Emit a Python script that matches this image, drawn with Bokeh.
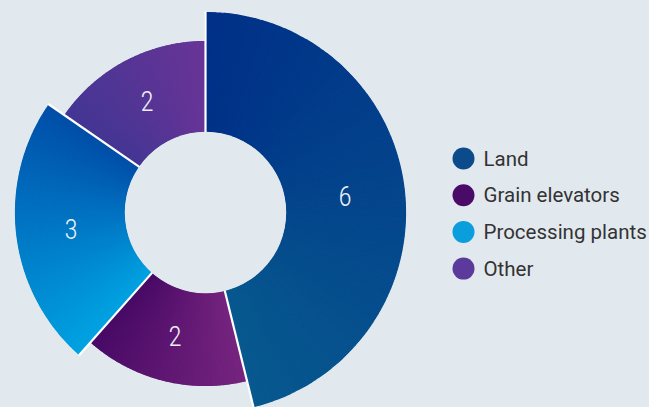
import numpy as np
from bokeh.plotting import figure
from bokeh.models import ColumnDataSource, Range1d
from bokeh.core.properties import value
from bokeh.embed import file_html
from bokeh.resources import INLINE

# ---- data ----
categories = ["Land", "Grain elevators", "Processing plants", "Other"]
counts = [6, 2, 3, 2]

# ---- style ----
outer_radii = [200, 173, 190, 171]
grad_start = ["#003088", "#76257f", "#00a3e2", "#443694"]
grad_end = ["#07598f", "#480a66", "#004ea8", "#683597"]
legend_colors = ["#0b4b8c", "#4a0a68", "#0a9fdc", "#5b3a9b"]
BG = "#e2e9ee"
CX, CY = 205, 407 - 212
R_IN = 81


def hex2rgb(h):
    h = h.lstrip("#")
    return np.array([int(h[i:i + 2], 16) for i in (0, 2, 4)], dtype=float)


def mix(a, b, t):
    c = hex2rgb(a) * (1 - t) + hex2rgb(b) * t
    return "#%02x%02x%02x" % tuple(int(round(v)) for v in c)


total = float(sum(counts))
ang = np.pi / 2
bounds = []
sub = dict(start=[], end=[], r=[], color=[])
lab = dict(x=[], y=[], text=[])
N = 120
for i, c in enumerate(counts):
    sweep = 2 * np.pi * c / total
    a0, a1 = ang, ang - sweep  # clockwise
    bounds.append(a0)
    edges = np.linspace(a0, a1, N + 1)
    for k in range(N):
        t = (k + 0.5) / N
        sub["start"].append(min(edges[k], edges[k + 1]))
        sub["end"].append(max(edges[k], edges[k + 1]))
        sub["r"].append(outer_radii[i])
        sub["color"].append(mix(grad_start[i], grad_end[i], t))
    mid = (a0 + a1) / 2
    rm = (R_IN + outer_radii[i]) / 2
    lab["x"].append(CX + rm * np.cos(mid))
    lab["y"].append(CY + rm * np.sin(mid))
    lab["text"].append(str(c))
    ang = a1

p = figure(width=649, height=407, output_backend="svg", toolbar_location=None,
           x_range=Range1d(0, 649), y_range=Range1d(0, 407),
           min_border=0, background_fill_color=BG, border_fill_color=BG,
           outline_line_color=None)
p.axis.visible = False
p.grid.visible = False

src = ColumnDataSource(sub)
p.annular_wedge(x=CX, y=CY, inner_radius=R_IN, outer_radius="r",
                start_angle="start", end_angle="end", direction="anticlock",
                fill_color="color", line_color="color", line_width=1.2, source=src)

# white separators between slices
sx0, sy0, sx1, sy1 = [], [], [], []
for i, b in enumerate(bounds):
    rmax = max(outer_radii[i], outer_radii[i - 1]) + 1
    sx0.append(CX + (R_IN - 1) * np.cos(b))
    sy0.append(CY + (R_IN - 1) * np.sin(b))
    sx1.append(CX + rmax * np.cos(b))
    sy1.append(CY + rmax * np.sin(b))
p.segment(x0=sx0, y0=sy0, x1=sx1, y1=sy1, line_color="white", line_width=2.2)
# inner hole
p.circle(x=[CX], y=[CY], radius=R_IN - 0.3, fill_color=BG, line_color=None)

p.text(x="x", y="y", text="text", source=ColumnDataSource(lab),
       text_font=value("'Roboto Condensed Light', 'Roboto Condensed', 'DejaVu Sans Condensed', 'Liberation Sans Narrow', sans-serif"),
       text_font_size="27px",
       text_color="#eef0f8", text_align="center", text_baseline="middle")

# legend
ly = [407 - (158 + 36.7 * i) for i in range(len(categories))]
leg = ColumnDataSource(dict(x=[463] * len(categories), tx=[483] * len(categories),
                            y=ly, text=categories, color=legend_colors))
p.scatter(x="x", y="y", size=22, marker="circle", fill_color="color",
          line_color=None, source=leg)
p.text(x="tx", y="y", text="text", source=leg, text_font=value("Roboto"),
       text_font_size="20.5px", text_color="#333333", text_baseline="middle",
       text_align="left")

html = file_html(p, INLINE)
html = html.replace("<head>", "<head><style>html,body{margin:0;padding:0;background:%s;overflow:hidden}</style>" % BG, 1)
open("out.html", "w").write(html)
